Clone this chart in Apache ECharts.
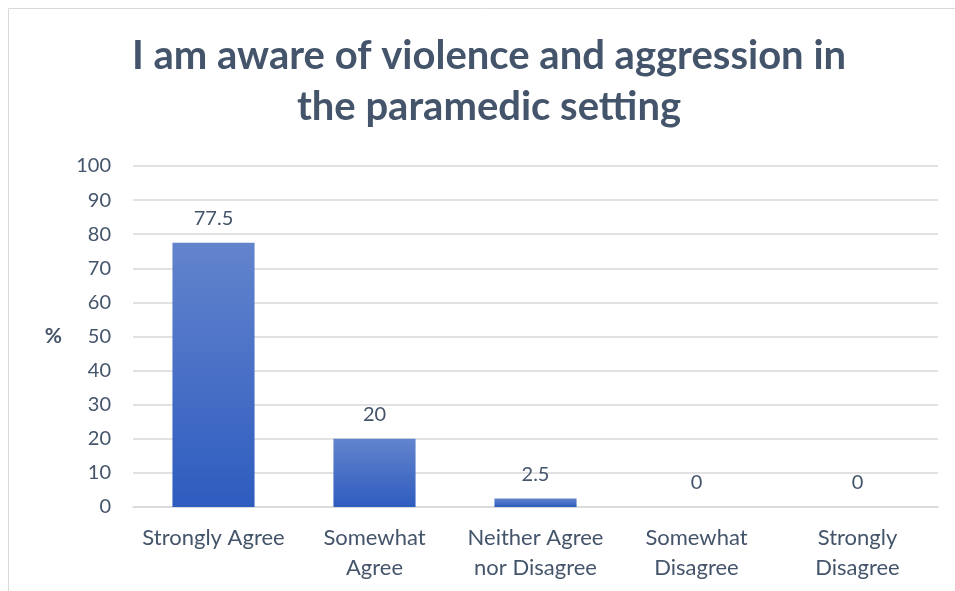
<!DOCTYPE html>
<html><head><meta charset="utf-8">
<script src="https://cdn.jsdelivr.net/npm/echarts@6/dist/echarts.min.js"></script>
<style>html,body{margin:0;padding:0;background:#fff}#c{width:955px;height:591px}</style>
</head><body><div id="c"></div>
<script>
const categories = ['Strongly Agree', 'Somewhat\nAgree', 'Neither Agree\nnor Disagree', 'Somewhat\nDisagree', 'Strongly\nDisagree'];
const values = [77.5, 20, 2.5, 0, 0];
const titleText = 'I am aware of violence and aggression in\nthe paramedic setting';
const yAxisName = '%';

const txt = '#44546A';
const font = 'Lato, "Open Sans", sans-serif';
const chart = echarts.init(document.getElementById('c'), null, {renderer: 'canvas'});
chart.setOption({
  animation: false,
  graphic: [{type: 'rect', shape: {x: 8.5, y: 8.5, width: 980, height: 620}, style: {fill: 'none', stroke: '#D9D9D9', lineWidth: 1}, z: -10}],
  title: {
    text: titleText, left: 489, textAlign: 'center', top: 31, padding: 0,
    textStyle: {fontFamily: font, fontWeight: 'bold', fontSize: 40, color: txt, lineHeight: 51}
  },
  grid: {left: 133, right: 17, top: 166, bottom: 84, containLabel: false},
  xAxis: {
    type: 'category', data: categories,
    axisLine: {lineStyle: {color: '#D9D9D9', width: 1.5}},
    axisTick: {show: false},
    axisLabel: {fontFamily: font, fontSize: 22, color: txt, lineHeight: 30, margin: 16, interval: 0}
  },
  yAxis: {
    type: 'value', min: 0, max: 100, interval: 10,
    name: yAxisName, nameLocation: 'middle', nameRotate: 0, nameGap: 71,
    nameTextStyle: {fontFamily: font, fontWeight: 'bold', fontSize: 21, color: txt},
    axisLine: {show: false}, axisTick: {show: false},
    axisLabel: {fontFamily: font, fontSize: 20, color: txt, margin: 22},
    splitLine: {lineStyle: {color: '#D9D9D9', width: 1.5}}
  },
  series: [{
    type: 'bar', data: values, barWidth: '51%',
    itemStyle: {color: new echarts.graphic.LinearGradient(0, 0, 0, 1, [{offset: 0, color: '#6384CD'}, {offset: 1, color: '#2E5CBF'}])},
    label: {show: true, position: 'top', distance: 14, fontFamily: font, fontSize: 20, color: txt}
  }]
});
</script></body></html>
